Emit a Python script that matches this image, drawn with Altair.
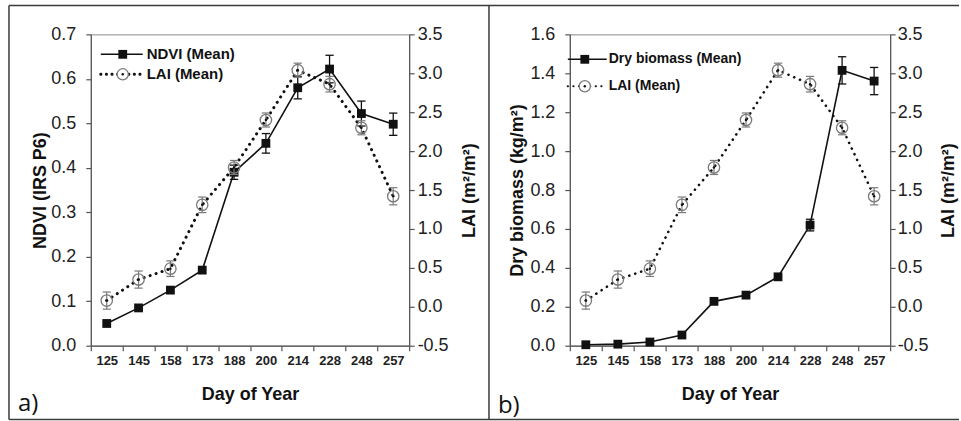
import json
import altair as alt
import pandas as pd

# ---------------- data ----------------
days = ["125", "145", "158", "173", "188", "200", "214", "228", "248", "257"]
ndvi = [0.050, 0.085, 0.125, 0.170, 0.390, 0.455, 0.580, 0.622, 0.522, 0.498]
ndvi_err = [0.0, 0.0, 0.0, 0.0, 0.016, 0.022, 0.025, 0.031, 0.028, 0.025]
lai = [0.08, 0.35, 0.49, 1.31, 1.79, 2.40, 3.04, 2.86, 2.30, 1.42]
lai_err = [0.11, 0.11, 0.10, 0.10, 0.09, 0.09, 0.09, 0.10, 0.09, 0.11]
biomass = [0.005, 0.008, 0.019, 0.055, 0.228, 0.260, 0.354, 0.620, 1.415, 1.360]
biomass_err = [0.0, 0.0, 0.0, 0.0, 0.0, 0.0, 0.0, 0.03, 0.07, 0.07]

ndvi_ticks = [0.0, 0.1, 0.2, 0.3, 0.4, 0.5, 0.6, 0.7]
biomass_ticks = [0.0, 0.2, 0.4, 0.6, 0.8, 1.0, 1.2, 1.4, 1.6]
lai_ticks = [-0.5, 0.0, 0.5, 1.0, 1.5, 2.0, 2.5, 3.0, 3.5]

x_title = "Day of Year"
lai_title = "LAI (m²/m²)"
ndvi_title = "NDVI (IRS P6)"
biomass_title = "Dry biomass  (kg/m²)"
legend_ndvi = "NDVI (Mean)"
legend_biomass = "Dry biomass (Mean)"
legend_lai = "LAI (Mean)"
tags = ["a)", "b)"]

FONT = "Arial, Liberation Sans, sans-serif"
INK = "#111111"
GREY = "#7a7a7a"
FRAME = "#3a3a3a"
H = 312
W_A, W_B = 319, 321


def make_df(left, left_err):
    return pd.DataFrame({
        "idx": list(range(len(days))),
        "day": days,
        "left": left,
        "left_err": left_err,
        "left_lo": [v - e for v, e in zip(left, left_err)],
        "left_hi": [v + e for v, e in zip(left, left_err)],
        "lai": lai,
        "lai_lo": [v - e for v, e in zip(lai, lai_err)],
        "lai_hi": [v + e for v, e in zip(lai, lai_err)],
    })


half_steps = [i / 2 - 0.5 for i in range(2 * len(days) + 1)]
x_scale = alt.Scale(domain=[-0.5, len(days) - 0.5], nice=False, zero=False)
x_axis = alt.Axis(
    values=half_steps,
    title=x_title,
    grid=False,
    labelExpr="datum.value % 1 === 0 ? " + json.dumps(days) + "[datum.value] : ''",
    tickOpacity={"condition": {"test": "datum.value % 1 === 0", "value": 0}, "value": 1},
    labelOverlap=False,
    labelFlush=False,
    labelPadding=4,
    titlePadding=18,
)

lai_scale = alt.Scale(domain=[-0.5, 3.5], nice=False, zero=False)


def one():
    return alt.Data(values=[{"k": 0}])


def panel(df, left_ticks, left_title, legend_left, tag, width, cfg):
    left_scale = alt.Scale(domain=[left_ticks[0], left_ticks[-1]], nice=False, zero=False)
    left_axis = alt.Axis(values=left_ticks, format=".1f", title=left_title, orient="left",
                         grid=False, labelPadding=10, titlePadding=cfg["ltp"])
    right_axis = alt.Axis(values=lai_ticks, title=lai_title, orient="right", grid=False,
                          labelExpr="(datum.value < 0 ? '-' : '') + format(abs(datum.value), '.1f')",
                          labelPadding=cfg["rlp"], titlePadding=cfg["rtp"],
                          titleAngle=270, titleBaseline="top")
    X = lambda f: alt.X(f, scale=x_scale, axis=x_axis)
    YL = lambda f: alt.Y(f, scale=left_scale, axis=left_axis)
    YR = lambda f: alt.Y(f, scale=lai_scale, axis=right_axis)

    base = alt.Chart(df)
    errs = base.transform_filter("datum.left_err > 0")
    caps = errs.transform_calculate(cl="datum.idx - 0.13", cr="datum.idx + 0.13")
    left_layer = alt.layer(
        errs.mark_rule(color=INK, strokeWidth=1.3).encode(x=X("idx:Q"), y=YL("left_lo:Q"), y2="left_hi:Q"),
        caps.mark_rule(color=INK, strokeWidth=1.3).encode(x=X("cl:Q"), x2="cr:Q", y=YL("left_lo:Q")),
        caps.mark_rule(color=INK, strokeWidth=1.3).encode(x=X("cl:Q"), x2="cr:Q", y=YL("left_hi:Q")),
        base.mark_line(color=INK, strokeWidth=1.6).encode(x=X("idx:Q"), y=YL("left:Q")),
        base.mark_point(shape="square", filled=True, size=78, color=INK, opacity=1).encode(
            x=X("idx:Q"), y=YL("left:Q")),
    )

    lcaps = base.transform_calculate(cl="datum.idx - 0.13", cr="datum.idx + 0.13")
    right_layer = alt.layer(
        base.mark_line(color=INK, strokeWidth=cfg["dotw"], strokeDash=[0.1, 6.2], strokeCap="round").encode(
            x=X("idx:Q"), y=YR("lai:Q")),
        base.mark_rule(color=GREY, strokeWidth=1.2).encode(x=X("idx:Q"), y=YR("lai_lo:Q"), y2="lai_hi:Q"),
        lcaps.mark_rule(color=GREY, strokeWidth=1.2).encode(x=X("cl:Q"), x2="cr:Q", y=YR("lai_lo:Q")),
        lcaps.mark_rule(color=GREY, strokeWidth=1.2).encode(x=X("cl:Q"), x2="cr:Q", y=YR("lai_hi:Q")),
        base.mark_point(shape="circle", filled=False, size=130, stroke=GREY, strokeWidth=1.3, opacity=1).encode(
            x=X("idx:Q"), y=YR("lai:Q")),
        base.mark_point(shape="circle", filled=True, size=6, color=INK, opacity=1).encode(
            x=X("idx:Q"), y=YR("lai:Q")),
    )

    lg = cfg["legend"]
    deco = [
        alt.Chart(one()).mark_rule(color=INK, strokeWidth=1.6).encode(
            x=alt.value(lg["x0"]), x2=alt.value(lg["x1"]), y=alt.value(lg["y0"])),
        alt.Chart(one()).mark_point(shape="square", filled=True, size=78, color=INK, opacity=1).encode(
            x=alt.value(lg["xm"]), y=alt.value(lg["y0"])),
        alt.Chart(one()).mark_text(text=legend_left, align="left", baseline="middle", font=FONT,
                                   fontSize=lg["fs"], fontWeight="bold", color=INK).encode(
            x=alt.value(lg["xt"]), y=alt.value(lg["y0"])),
        alt.Chart(one()).mark_rule(color=INK, strokeWidth=cfg["ldotw"], strokeDash=[0.1, 5.5], strokeCap="round").encode(
            x=alt.value(lg["x0"]), x2=alt.value(lg["x1"]), y=alt.value(lg["y1"])),
        alt.Chart(one()).mark_point(shape="circle", filled=True, size=125, fill="white", stroke=GREY,
                                    strokeWidth=1.3, opacity=1).encode(
            x=alt.value(lg["xm"]), y=alt.value(lg["y1"])),
        alt.Chart(one()).mark_point(shape="circle", filled=True, size=6, color=INK, opacity=1).encode(
            x=alt.value(lg["xm"]), y=alt.value(lg["y1"])),
        alt.Chart(one()).mark_text(text=legend_lai, align="left", baseline="middle", font=FONT,
                                   fontSize=lg["fs"], fontWeight="bold", color=INK).encode(
            x=alt.value(lg["xt"]), y=alt.value(lg["y1"])),
        alt.Chart(one()).mark_text(text=tag, align="left", baseline="alphabetic", font="Open Sans",
                                   fontSize=24, color=INK).encode(
            x=alt.value(cfg["tagx"]), y=alt.value(cfg["tagy"])),
    ]
    fr = cfg["frame"]
    deco += [
        alt.Chart(one()).mark_rule(color=FRAME, strokeWidth=1.5).encode(
            x=alt.value(fr["l"]), x2=alt.value(fr["r"]), y=alt.value(fr["t"])),
        alt.Chart(one()).mark_rule(color=FRAME, strokeWidth=1.5).encode(
            x=alt.value(fr["l"]), x2=alt.value(fr["r"]), y=alt.value(fr["b"])),
    ]
    for vx in fr["v"]:
        deco.append(alt.Chart(one()).mark_rule(color=FRAME, strokeWidth=1.5).encode(
            x=alt.value(vx), y=alt.value(fr["t"]), y2=alt.value(fr["b"])))

    return alt.layer(left_layer, right_layer, *deco).resolve_scale(y="independent").properties(
        width=width, height=H)


cfg_a = dict(ltp=1, rlp=3, rtp=12, dotw=3.0, ldotw=3.0,
             legend=dict(x0=10, x1=52, xm=32, xt=56, y0=20, y1=40, fs=15),
             tagx=-73, tagy=377,
             frame=dict(l=-82, r=399, t=-29, b=386, v=[-82, 399]))
cfg_b = dict(ltp=3, rlp=2, rtp=11, dotw=2.6, ldotw=2.2,
             legend=dict(x0=-2, x1=37, xm=15, xt=39, y0=25, y1=52, fs=14),
             tagx=-72, tagy=379,
             frame=dict(l=-81, r=390, t=-29, b=386, v=[]))

chart_a = panel(make_df(ndvi, ndvi_err), ndvi_ticks, ndvi_title, legend_ndvi, tags[0], W_A, cfg_a)
chart_b = panel(make_df(biomass, biomass_err), biomass_ticks, biomass_title, legend_biomass, tags[1], W_B, cfg_b)

# plot-area origins: panel a at x=90, panel b at x=570 -> flush spacing
chart = alt.hconcat(chart_a, chart_b, spacing=570 - 90 - W_A, bounds="flush").properties(
    padding={"left": 7, "top": 3, "right": 0, "bottom": 0},
    background="white",
).configure_axis(
    labelFont=FONT, titleFont=FONT, labelFontSize=18, titleFontSize=18, titleFontWeight="bold",
    labelColor="#222222", titleColor=INK, domainColor="#555555", tickColor="#555555",
    tickSize=5, domainWidth=1.2, tickWidth=1.2,
).configure_axisX(labelFontSize=13, labelFontWeight="bold").configure_view(
    stroke="#888888", strokeWidth=1)

chart.save("out.html", embed_options={"renderer": "svg", "actions": False})
